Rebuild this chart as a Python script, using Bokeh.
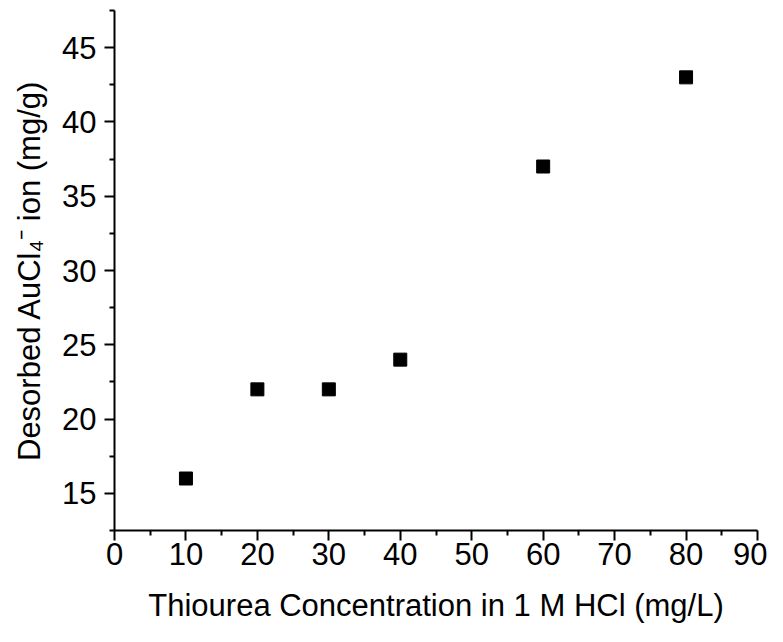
from bokeh.plotting import figure
from bokeh.models import Range1d, FixedTicker
from bokeh.embed import file_html
from bokeh.resources import INLINE

thiourea = [10, 20, 30, 40, 60, 80]
desorbed = [16, 22, 22, 24, 37, 43]
x_ticks = [0, 10, 20, 30, 40, 50, 60, 70, 80, 90]
x_minor = [5, 15, 25, 35, 45, 55, 65, 75, 85]
y_ticks = [15, 20, 25, 30, 35, 40, 45]
y_minor = [12.5, 17.5, 22.5, 27.5, 32.5, 37.5, 42.5, 47.5]

FONT = "Liberation Sans"

p = figure(width=767, height=626, output_backend="svg", toolbar_location=None,
           x_range=Range1d(0, 90), y_range=Range1d(12.5, 47.5),
           min_border_left=114, min_border_right=10, min_border_top=10, min_border_bottom=96)
p.outline_line_color = None
p.grid.visible = False
p.background_fill_color = "white"
p.border_fill_color = "white"

p.scatter(thiourea, desorbed, marker="square", size=13, color="black")

for ax in (p.xaxis[0], p.yaxis[0]):
    ax.axis_line_width = 2
    ax.major_tick_line_width = 2
    ax.minor_tick_line_width = 2
    ax.major_tick_out = 10
    ax.major_tick_in = 0
    ax.minor_tick_out = 5
    ax.minor_tick_in = 0
    ax.major_label_text_font = FONT
    ax.major_label_text_font_size = "31px"
    ax.major_label_text_color = "black"
    ax.axis_label_text_font = FONT
    ax.axis_label_text_font_size = "31px"
    ax.axis_label_text_font_style = "normal"
    ax.axis_label_text_color = "black"

p.xaxis.ticker = FixedTicker(ticks=x_ticks, minor_ticks=x_minor)
p.yaxis.ticker = FixedTicker(ticks=y_ticks, minor_ticks=y_minor)
p.xaxis.axis_label = "Thiourea Concentration in 1 M HCl (mg/L)"
p.yaxis.axis_label = "Desorbed AuCl\u2084\u207b ion (mg/g)"
p.xaxis.major_label_standoff = 2
p.xaxis.axis_label_standoff = 20
p.yaxis.major_label_standoff = 8
p.yaxis.axis_label_standoff = 12

open("out.html", "w").write(file_html(p, INLINE))
